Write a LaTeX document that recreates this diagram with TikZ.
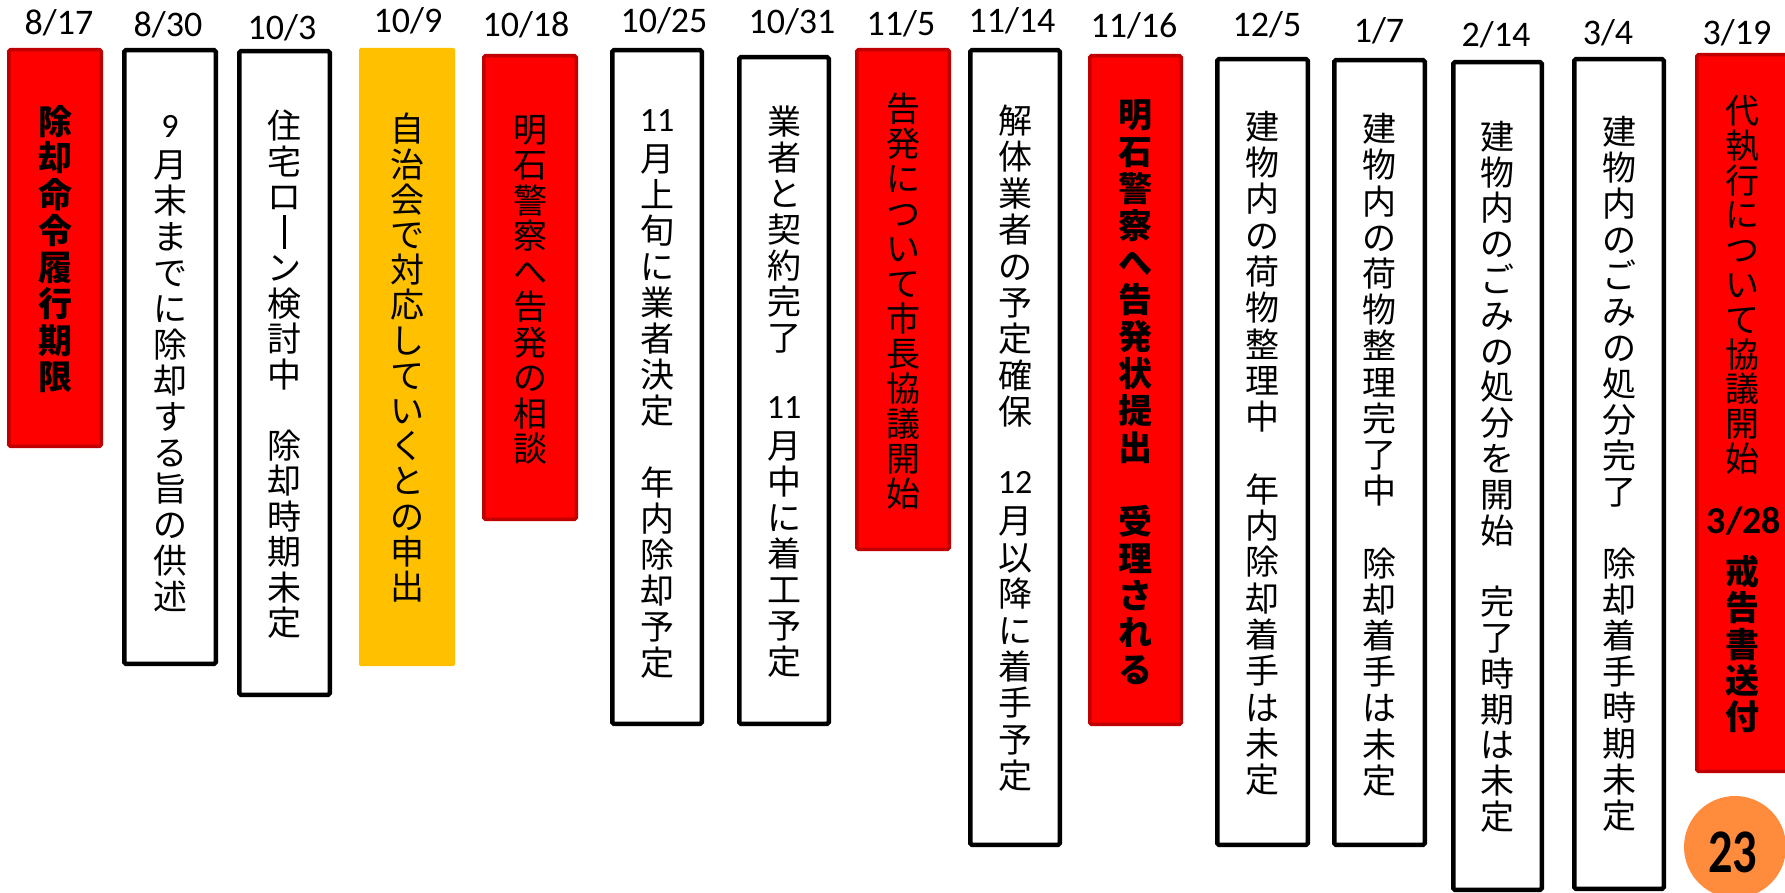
\documentclass[tikz,border=0pt]{standalone}
\usepackage{fontspec}
\usepackage{graphicx}
\setmainfont{Carlito}
\newfontfamily\jpfont{Noto Sans CJK JP}
\newfontfamily\dgfont{Carlito}
\definecolor{boxred}{HTML}{FF0000}
\definecolor{boxredline}{HTML}{C00000}
\definecolor{boxorange}{HTML}{FFC000}
\definecolor{pgorange}{HTML}{FF8B3D}
\newlength\vtpitch
\makeatletter
\def\vtendmark{\vtend}
\newcommand\vtext[2][36pt]{\setlength\vtpitch{#1}\vbox{\offinterlineskip\vt@aux#2\vtend}}
\def\vt@aux#1{\def\vt@arg{#1}\ifx\vt@arg\vtendmark\else\vt@cell{#1}\expandafter\vt@aux\fi}
\def\vt@cell#1{\hbox to 0pt{\hss\vrule width 0pt height 0.86\vtpitch depth 0.14\vtpitch #1\hss}}
\makeatother
\newcommand\dg[1]{\raisebox{4pt}{\dgfont #1}}
\newcommand\vbar{\vrule width 2.4pt height 0.84\vtpitch depth 0.1\vtpitch}
\begin{document}
\begin{tikzpicture}[x=1pt,y=-1pt,
  redbox/.style={draw=boxredline, fill=boxred, line width=3.5pt, rounded corners=1.5pt, inner sep=0pt},
  whitebox/.style={draw=black, fill=white, line width=4.5pt, rounded corners=1.5pt, inner sep=0pt},
  orangebox/.style={fill=boxorange, draw=none, rounded corners=1.5pt, inner sep=0pt},
  datelbl/.style={font=\fontsize{36}{40}\selectfont, anchor=base, inner sep=0pt},
  vtxt/.style={font=\jpfont\fontsize{34}{36}\selectfont, inner sep=0pt, anchor=center},
  vtxtb/.style={font=\jpfont\bfseries\fontsize{34}{36}\selectfont, inner sep=0pt, anchor=center}
]
\useasboundingbox (0,0) rectangle (1785,893);
\clip (0,0) rectangle (1785,893);
% boxes
\node[redbox, minimum width=92.5pt, minimum height=396.5pt] (b1) at (55,248) {};
\node[whitebox, minimum width=91.5pt, minimum height=613.5pt] (b2) at (170,357) {};
\node[whitebox, minimum width=90.5pt, minimum height=643.5pt] (b3) at (284.5,373) {};
\node[orangebox, minimum width=96pt, minimum height=618pt] (b4) at (407,357) {};
\node[redbox, minimum width=92.5pt, minimum height=463.5pt] (b5) at (530,287.5) {};
\node[whitebox, minimum width=89.5pt, minimum height=673.5pt] (b6) at (657,387) {};
\node[whitebox, minimum width=89.5pt, minimum height=666.5pt] (b7) at (784,390.5) {};
\node[redbox, minimum width=92.5pt, minimum height=499.5pt] (b8) at (903,299.5) {};
\node[whitebox, minimum width=89.5pt, minimum height=794.5pt] (b9) at (1015,447.5) {};
\node[redbox, minimum width=91.5pt, minimum height=668.5pt] (b10) at (1135.5,390) {};
\node[whitebox, minimum width=90.5pt, minimum height=785.5pt] (b11) at (1262.5,452) {};
\node[whitebox, minimum width=90.5pt, minimum height=784.5pt] (b12) at (1379.5,452.5) {};
\node[whitebox, minimum width=88.5pt, minimum height=827.5pt] (b13) at (1497.5,476) {};
\node[whitebox, minimum width=89.5pt, minimum height=829.5pt] (b14) at (1619,474) {};
\node[redbox, minimum width=92.5pt, minimum height=716.5pt] (b15) at (1743,413) {};
% dates
\node[datelbl] (d1) at (59,34.4) {8/17};
\node[datelbl] (d2) at (168,36.4) {8/30};
\node[datelbl] (d3) at (282,39.4) {10/3};
\node[datelbl] (d4) at (408,32.4) {10/9};
\node[datelbl] (d5) at (526,36.4) {10/18};
\node[datelbl] (d6) at (664,32.4) {10/25};
\node[datelbl] (d7) at (792,33.4) {10/31};
\node[datelbl] (d8) at (901,35.4) {11/5};
\node[datelbl] (d9) at (1012,32.4) {11/14};
\node[datelbl] (d10) at (1134,37.4) {11/16};
\node[datelbl] (d11) at (1267,36.4) {12/5};
\node[datelbl] (d12) at (1379,42.4) {1/7};
\node[datelbl] (d13) at (1496,46.4) {2/14};
\node[datelbl] (d14) at (1608,44.4) {3/4};
\node[datelbl] (d15) at (1737,44.4) {3/19};
% texts
\node[vtxtb] (t1) at (55,249) {\vtext[36.5pt]{除却命令履行期限}};
\node[vtxt] (t2) at (170,363) {\vtext{{\dg{9}}月末までに除却する旨の供述}};
\node[vtxt] (t3) at (284.5,374.5) {\vtext[35.5pt]{住宅ロ{\vbar}ン検討中　除却時期未定}};
\node[vtxt] (t4) at (407,358) {\vtext[35.2pt]{自治会で対応していくとの申出}};
\node[vtxt] (t5) at (530,289) {\vtext[35.5pt]{明石警察へ告発の相談}};
\node[vtxt] (t6) at (657,392.5) {\vtext{{\dg{11}}月上旬に業者決定　年内除却予定}};
\node[vtxt] (t7) at (784,391.5) {\vtext{業者と契約完了　{\dg{11}}月中に着工予定}};
\node[vtxt] (t8) at (903,301.5) {\vtext[35pt]{告発について市長協議開始}};
\node[vtxt] (t9) at (1015,448) {\vtext[36.4pt]{解体業者の予定確保　{\dg{12}}月以降に着手予定}};
\node[vtxtb] (t10) at (1135.5,391.5) {\vtext[37pt]{明石警察へ告発状提出　受理される}};
\node[vtxt] (t11) at (1262.5,453) {\vtext[36.3pt]{建物内の荷物整理中　年内除却着手は未定}};
\node[vtxt] (t12) at (1379.5,454.5) {\vtext[36.2pt]{建物内の荷物整理完了中　除却着手は未定}};
\node[vtxt] (t13) at (1497.5,476.5) {\vtext[35.8pt]{建物内のごみの処分を開始　完了時期は未定}};
\node[vtxt] (t14) at (1619,474) {\vtext{建物内のごみの処分完了　除却着手時期未定}};
\node[vtxt] (t15a) at (1742,285) {\vtext[34.8pt]{代執行について協議開始}};
\node[font=\bfseries\fontsize{38}{40}\selectfont, anchor=base, inner sep=0pt] (t15b) at (1744,533) {3/28};
\node[vtxtb] (t15c) at (1742,644) {\vtext[36.2pt]{戒告書送付}};
% page number
\node[circle, fill=pgorange, minimum size=102pt, inner sep=0pt] (pg) at (1735,847) {};
\node[font=\bfseries\fontsize{62}{62}\selectfont, anchor=base, inner sep=0pt] (pgnum) at (1732.5,872) {\scalebox{0.78}[1]{23}};
\end{tikzpicture}
\end{document}
